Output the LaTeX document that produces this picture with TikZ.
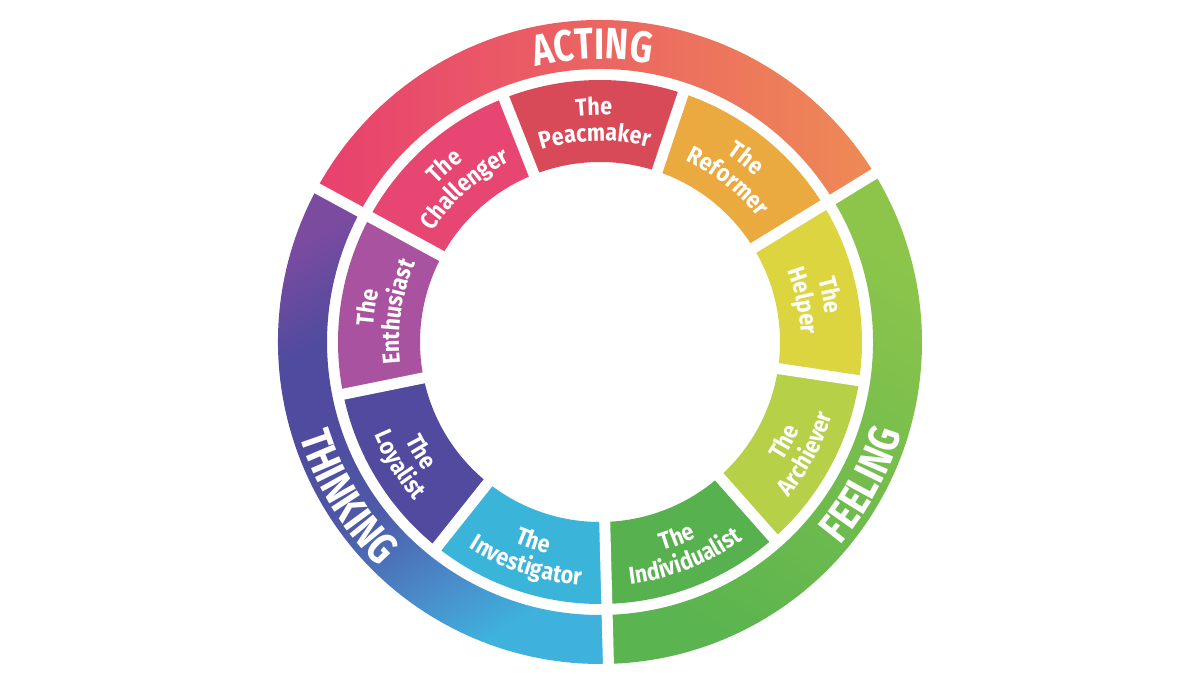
\documentclass[tikz,border=0pt]{standalone}
\usepackage{fontspec}
\newfontfamily\labfont[FakeStretch=0.88]{Fira Sans}
\newfontfamily\bigfont[FakeStretch=0.8]{Fira Sans}
\usetikzlibrary{decorations.text}
\definecolor{actL}{HTML}{E8406F}
\definecolor{actM}{HTML}{ED5F68}
\definecolor{actR}{HTML}{EE8A55}
\definecolor{thkT}{HTML}{7B4BA0}
\definecolor{thkM}{HTML}{4F4B9E}
\definecolor{thkN}{HTML}{4E5AA8}
\definecolor{thkC}{HTML}{4A8CCB}
\definecolor{thkB}{HTML}{3EB2DD}
\definecolor{felT}{HTML}{8DC54B}
\definecolor{felB}{HTML}{5AB44F}
\definecolor{cPeace}{HTML}{D94A58}
\definecolor{cChall}{HTML}{E84672}
\definecolor{cReform}{HTML}{EBAA40}
\definecolor{cHelp}{HTML}{DDD540}
\definecolor{cAchi}{HTML}{B6D048}
\definecolor{cIndi}{HTML}{58B14F}
\definecolor{cInve}{HTML}{3AB4D8}
\definecolor{cLoya}{HTML}{514A9E}
\definecolor{cEnth}{HTML}{A9529F}
\pgfdeclareverticalshading{thinkshade}{100bp}{color(0bp)=(thkB); color(25bp)=(thkB); color(33bp)=(thkC); color(44bp)=(thkN); color(55bp)=(thkM); color(64bp)=(thkM); color(75bp)=(thkT); color(100bp)=(thkT)}
% #1 style, #2 start angle, #3 end angle, #4 outer radius, #5 inner radius
\newcommand\mysector[5]{\path[#1] ({#2}:#4) arc[start angle={#2}, end angle={#3}, radius=#4] -- ({#3}:#5) arc[start angle={#3}, end angle={#2}, radius=#5] -- cycle;}
% label with tops outward (clockwise): #1 angle, #2 radius, #3 text, #4 font
\newcommand\cwlabel[4]{\path[decorate,decoration={text along path,text align=center,text color=white,text={|#4|#3}}] ({#1+30}:#2) arc[start angle={#1+30}, end angle={#1-30}, radius=#2];}
\newcommand\ccwlabel[4]{\path[decorate,decoration={text along path,text align=center,text color=white,text={|#4|#3}}] ({#1-30}:#2) arc[start angle={#1-30}, end angle={#1+30}, radius=#2];}
\newcommand\innerlabfont{\labfont\bfseries\fontsize{13.9}{14}\selectfont}
\newcommand\outerlabfont{\bigfont\bfseries\fontsize{25}{26}\selectfont}
\tikzset{gapline/.style={white, line width=0.22cm}}
\begin{document}
\begin{tikzpicture}[x=0.02cm,y=0.02cm]
\useasboundingbox (0,0) rectangle (1200,679);
\fill[white] (0,0) rectangle (1200,679);
\begin{scope}[shift={(600,337)}]
% outer ring
\mysector{left color=actL, middle color=actM, right color=actR}{31.5}{151.5}{322}{273}
\mysector{shading=thinkshade, shading angle=30}{151.5}{271.5}{322}{273}
\mysector{top color=felT, bottom color=felB, shading angle=-33}{271.5}{391.5}{322}{273}
% inner ring
\mysector{fill=cReform}{31.5}{71.5}{262}{180}
\mysector{fill=cPeace}{71.5}{111.5}{262}{180}
\mysector{fill=cChall}{111.5}{151.5}{262}{180}
\mysector{fill=cEnth}{151.5}{191.5}{262}{180}
\mysector{fill=cLoya}{191.5}{231.5}{262}{180}
\mysector{fill=cInve}{231.5}{271.5}{262}{180}
\mysector{fill=cIndi}{271.5}{311.5}{262}{180}
\mysector{fill=cAchi}{311.5}{351.5}{262}{180}
\mysector{fill=cHelp}{351.5}{391.5}{262}{180}
% gaps
\foreach \a in {71.5,111.5,191.5,231.5,311.5,351.5}{
  \draw[gapline] (\a:170) -- (\a:268);
}
\foreach \a in {31.5,151.5,271.5}{
  \draw[gapline] (\a:170) -- (\a:332);
}
% outer labels
\cwlabel{91.5}{283}{ACTING}{\outerlabfont}
\ccwlabel{211.5}{315}{THINKING}{\outerlabfont}
\ccwlabel{331.5}{315}{FEELING}{\outerlabfont}
% inner labels, top half
\cwlabel{91.5}{227}{The}{\innerlabfont}
\cwlabel{91.5}{201}{Peacmaker}{\innerlabfont}
\cwlabel{131.5}{227}{The}{\innerlabfont}
\cwlabel{131.5}{201}{Challenger}{\innerlabfont}
\cwlabel{171.5}{227}{The}{\innerlabfont}
\cwlabel{171.5}{201}{Enthusiast}{\innerlabfont}
\cwlabel{51.5}{227}{The}{\innerlabfont}
\cwlabel{51.5}{201}{Reformer}{\innerlabfont}
\cwlabel{11.5}{227}{The}{\innerlabfont}
\cwlabel{11.5}{201}{Helper}{\innerlabfont}
% inner labels, bottom half
\ccwlabel{211.5}{218}{The}{\innerlabfont}
\ccwlabel{211.5}{244}{Loyalist}{\innerlabfont}
\ccwlabel{251.5}{218}{The}{\innerlabfont}
\ccwlabel{251.5}{244}{Investigator}{\innerlabfont}
\ccwlabel{291.5}{218}{The}{\innerlabfont}
\ccwlabel{291.5}{244}{Individualist}{\innerlabfont}
\ccwlabel{331.5}{218}{The}{\innerlabfont}
\ccwlabel{331.5}{244}{Archiever}{\innerlabfont}
\end{scope}
\end{tikzpicture}
\end{document}
